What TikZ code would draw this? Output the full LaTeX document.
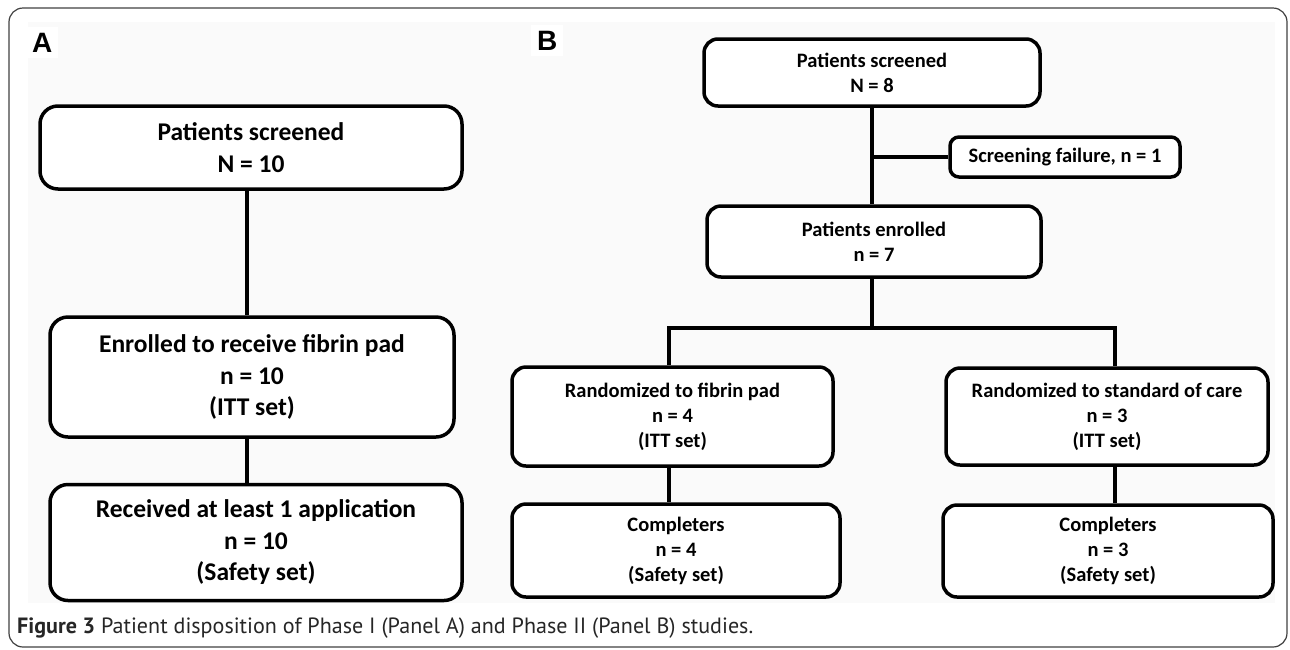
\documentclass[tikz,border=0pt]{standalone}
\usepackage{fontspec}
\setmainfont{Carlito}
\newfontfamily\panelfnt{Liberation Sans}
\newfontfamily\capfnt{PT Sans}
\usetikzlibrary{calc}
\tikzset{box/.style = {draw, line width=3.5pt, fill=white, align=center, inner sep=0pt}}
\tikzset{boxA/.style = {box, rounded corners=18pt, font=\fontsize{25.5}{31.5}\selectfont\bfseries}}
\tikzset{boxB/.style = {box, rounded corners=14pt, font=\fontsize{20.5}{25}\selectfont\bfseries}}
\tikzset{link/.style = {line width=3.5pt}}
\tikzset{panel/.style = {font=\panelfnt\fontsize{28}{28}\selectfont\bfseries, fill=white, inner sep=6pt, anchor=base west}}

\begin{document}
\begin{tikzpicture}[x=1pt, y=-1pt]
                    \useasboundingbox (0,0) rectangle (1290,649);
                    \fill[black!2] (28,22) rectangle (1275,603);
                    \draw[black!75, line width=1.2pt, rounded corners=14pt] (9,8) rectangle (1287,647);

                    \node[panel] (labA) at (26,52) {A};
                    \node[panel] (labB) at (531,50) {B};

                    \node[boxA, minimum width=422pt, minimum height=83pt] (scrA) at (251,147.5) {Patients screened\\N = 10};
                    \node[boxA, minimum width=404pt, minimum height=120pt] (enrA) at (252,377) {Enrolled to receive fibrin pad\\n = 10\\(ITT set)};
                    \node[boxA, minimum width=412pt, minimum height=116pt] (appA) at (256,542.5) {Received at least 1 application\\n = 10\\(Safety set)};

                    \node[boxB, minimum width=336pt, minimum height=67pt] (scrB) at (872,72.5) {Patients screened\\N = 8};
                    \node[boxB, rounded corners=9pt, minimum width=230pt, minimum height=40pt] (failB) at (1065,157) {Screening failure, n = 1};
                    \node[boxB, minimum width=334pt, minimum height=71pt] (enrB) at (874,241.5) {Patients enrolled\\n = 7};
                    \node[boxB, minimum width=321pt, minimum height=99pt] (randF) at (672.5,416.5) {Randomized to fibrin pad\\n = 4\\(ITT set)};
                    \node[boxB, minimum width=322pt, minimum height=97pt] (randS) at (1107,416.5) {Randomized to standard of care\\n = 3\\(ITT set)};
                    \node[boxB, minimum width=328pt, minimum height=93pt] (compF) at (676,550.5) {Completers\\n = 4\\(Safety set)};
                    \node[boxB, minimum width=330pt, minimum height=92pt] (compS) at (1108,551) {Completers\\n = 3\\(Safety set)};

                    \coordinate (spineA) at (247,0);
                    \coordinate (spineB) at (872,0);
                    \coordinate (spineL) at (669,0);
                    \coordinate (spineR) at (1115,0);
                    \coordinate (fork) at (872,328);

                    \draw[link] (scrA.south -| spineA) -- (enrA.north -| spineA);
                    \draw[link] (enrA.south -| spineA) -- (appA.north -| spineA);

                    \draw[link] (scrB.south -| spineB) -- (enrB.north -| spineB);
                    \draw[link] (failB.west) -- (failB.west -| spineB);
                    \draw[link] (enrB.south -| fork) -- (fork);
                    \draw[link] (randF.north -| spineL) |- (fork) -| (randS.north -| spineR);
                    \draw[link] (randF.south -| spineL) -- (compF.north -| spineL);
                    \draw[link] (randS.south -| spineR) -- (compS.north -| spineR);

                    \node[anchor=base west, inner sep=0pt, text=black!85, font=\capfnt\fontsize{17.5}{20}\selectfont] (cap) at (17,633) {\resizebox{736pt}{!}{\textbf{Figure 3} Patient disposition of Phase I (Panel A) and Phase II (Panel B) studies.}};
                \end{tikzpicture}
\end{document}
